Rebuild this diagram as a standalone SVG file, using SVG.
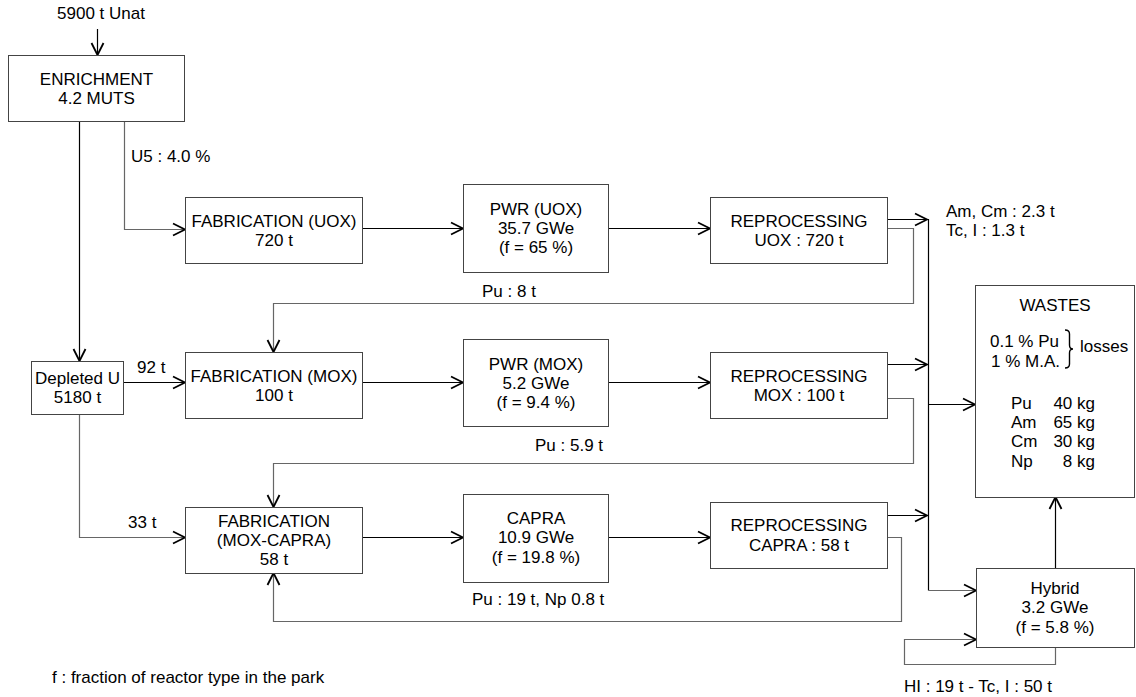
<svg xmlns="http://www.w3.org/2000/svg" width="1136" height="697" viewBox="0 0 1136 697">
<style>
text{font-family:"Liberation Sans",Arial,sans-serif;font-size:17px;fill:#000}
.c{text-anchor:middle}
.e{text-anchor:end}
.box{fill:#fff;stroke:#444;stroke-width:1}
.flow{fill:none;stroke:#000;stroke-width:1.2}
.ret{fill:none;stroke:#666;stroke-width:1.2}
</style>
<defs>
<marker id="arr" viewBox="-14 -8 16 16" refX="0" refY="0" markerWidth="16" markerHeight="16" markerUnits="userSpaceOnUse" orient="auto">
<path d="M-12,-6 L0,0 L-12,6" fill="none" stroke="#000" stroke-width="1.8"/>
</marker>
</defs>
<rect width="1136" height="697" fill="#fff"/>

<g id="connectors">
<path class="flow" d="M97.5,29 L97.5,55" marker-end="url(#arr)"/>
<path class="flow" d="M79.5,121 L79.5,361" marker-end="url(#arr)"/>
<path class="ret" d="M124.5,121 L124.5,229.5 L185,229.5" marker-end="url(#arr)"/>
<path class="flow" d="M362,228.5 L463,228.5" marker-end="url(#arr)"/>
<path class="flow" d="M608,228.5 L710,228.5" marker-end="url(#arr)"/>
<path class="flow" d="M887,219.5 L927,219.5" marker-end="url(#arr)"/>
<path class="ret" d="M887,228.5 L913.5,228.5 L913.5,303.5 L273.5,303.5 L273.5,352" marker-end="url(#arr)"/>
<path class="flow" d="M123,382.5 L185,382.5" marker-end="url(#arr)"/>
<path class="flow" d="M362,382.5 L463,382.5" marker-end="url(#arr)"/>
<path class="flow" d="M608,382.5 L710,382.5" marker-end="url(#arr)"/>
<path class="flow" d="M887,364.5 L927,364.5" marker-end="url(#arr)"/>
<path class="ret" d="M887,398.5 L913.5,398.5 L913.5,463.5 L273.5,463.5 L273.5,507" marker-end="url(#arr)"/>
<path class="ret" d="M79.5,414 L79.5,537.5 L185,537.5" marker-end="url(#arr)"/>
<path class="flow" d="M362,537.5 L463,537.5" marker-end="url(#arr)"/>
<path class="flow" d="M608,537.5 L710,537.5" marker-end="url(#arr)"/>
<path class="flow" d="M887,515.5 L927,515.5" marker-end="url(#arr)"/>
<path class="ret" d="M887,537.5 L901.5,537.5 L901.5,621.5 L273.5,621.5 L273.5,573" marker-end="url(#arr)"/>
<path class="flow" d="M928.5,219 L928.5,590.5"/>
<path class="ret" d="M928.5,590.5 L976,590.5" marker-end="url(#arr)"/>
<path class="flow" d="M928.5,404.5 L975,404.5" marker-end="url(#arr)"/>
<path class="flow" d="M1055.5,568 L1055.5,497" marker-end="url(#arr)"/>
<path class="ret" d="M1055.5,647 L1055.5,664.5 L904.5,664.5 L904.5,639.5 L976,639.5" marker-end="url(#arr)"/>
</g>

<g id="labels">
<text class="c" x="101" y="19">5900 t Unat</text>
<text x="131" y="162">U5 : 4.0 %</text>
<text x="482" y="297">Pu : 8 t</text>
<text x="137" y="373">92 t</text>
<text x="535" y="451">Pu : 5.9 t</text>
<text x="128" y="528">33 t</text>
<text x="472" y="605">Pu : 19 t, Np 0.8 t</text>
<text x="946" y="217">Am, Cm : 2.3 t</text>
<text x="946" y="236">Tc, I : 1.3 t</text>
<text x="904" y="692">HI : 19 t - Tc, I : 50 t</text>
<text x="52" y="683">f : fraction of reactor type in the park</text>
</g>

<g id="enrichment">
<rect class="box" x="8.5" y="55.5" width="176" height="66"/>
<text class="c" x="96.5" y="85">ENRICHMENT</text>
<text class="c" x="96.5" y="104">4.2 MUTS</text>
</g>

<g id="depleted-u">
<rect class="box" x="31.5" y="361.5" width="92" height="53"/>
<text class="c" x="77.5" y="384">Depleted U</text>
<text class="c" x="77.5" y="403">5180 t</text>
</g>

<g id="fab-uox">
<rect class="box" x="185.5" y="197.5" width="177" height="66"/>
<text class="c" x="274" y="227">FABRICATION (UOX)</text>
<text class="c" x="274" y="246">720 t</text>
</g>

<g id="pwr-uox">
<rect class="box" x="463.5" y="184.5" width="145" height="88"/>
<text class="c" x="536" y="215">PWR (UOX)</text>
<text class="c" x="536" y="234">35.7 GWe</text>
<text class="c" x="536" y="253">(f = 65 %)</text>
</g>

<g id="reproc-uox">
<rect class="box" x="710.5" y="197.5" width="177" height="66"/>
<text class="c" x="799" y="227">REPROCESSING</text>
<text class="c" x="799" y="246">UOX : 720 t</text>
</g>

<g id="fab-mox">
<rect class="box" x="185.5" y="352.5" width="177" height="66"/>
<text class="c" x="274" y="382">FABRICATION (MOX)</text>
<text class="c" x="274" y="401">100 t</text>
</g>

<g id="pwr-mox">
<rect class="box" x="463.5" y="339.5" width="145" height="87"/>
<text class="c" x="536" y="370">PWR (MOX)</text>
<text class="c" x="536" y="389">5.2 GWe</text>
<text class="c" x="536" y="408">(f = 9.4 %)</text>
</g>

<g id="reproc-mox">
<rect class="box" x="710.5" y="352.5" width="177" height="66"/>
<text class="c" x="799" y="382">REPROCESSING</text>
<text class="c" x="799" y="401">MOX : 100 t</text>
</g>

<g id="fab-capra">
<rect class="box" x="185.5" y="507.5" width="177" height="66"/>
<text class="c" x="274" y="527">FABRICATION</text>
<text class="c" x="274" y="546">(MOX-CAPRA)</text>
<text class="c" x="274" y="565">58 t</text>
</g>

<g id="capra">
<rect class="box" x="463.5" y="494.5" width="145" height="88"/>
<text class="c" x="536" y="524">CAPRA</text>
<text class="c" x="536" y="543">10.9 GWe</text>
<text class="c" x="536" y="563">(f = 19.8 %)</text>
</g>

<g id="reproc-capra">
<rect class="box" x="710.5" y="502.5" width="177" height="66"/>
<text class="c" x="799" y="531">REPROCESSING</text>
<text class="c" x="799" y="551">CAPRA : 58 t</text>
</g>

<g id="wastes">
<rect class="box" x="975.5" y="285.5" width="159" height="212"/>
<text class="c" x="1055" y="311">WASTES</text>
<text x="990" y="347">0.1 % Pu</text>
<text x="991" y="367">1 % M.A.</text>
<path d="M1065,330 Q1069.5,330 1069.5,334 L1069.5,345 Q1069.5,349 1073,349 Q1069.5,349 1069.5,353 L1069.5,364 Q1069.5,368 1065,368" fill="none" stroke="#000" stroke-width="1.4"/>
<text x="1080" y="352">losses</text>
<text x="1011" y="409">Pu</text>
<text x="1011" y="428">Am</text>
<text x="1011" y="447">Cm</text>
<text x="1011" y="467">Np</text>
<text class="e" x="1095" y="409">40 kg</text>
<text class="e" x="1095" y="428">65 kg</text>
<text class="e" x="1095" y="447">30 kg</text>
<text class="e" x="1095" y="467">8 kg</text>
</g>

<g id="hybrid">
<rect class="box" x="976.5" y="568.5" width="158" height="79"/>
<text class="c" x="1055" y="594">Hybrid</text>
<text class="c" x="1055" y="613">3.2 GWe</text>
<text class="c" x="1055" y="633">(f = 5.8 %)</text>
</g>
</svg>
